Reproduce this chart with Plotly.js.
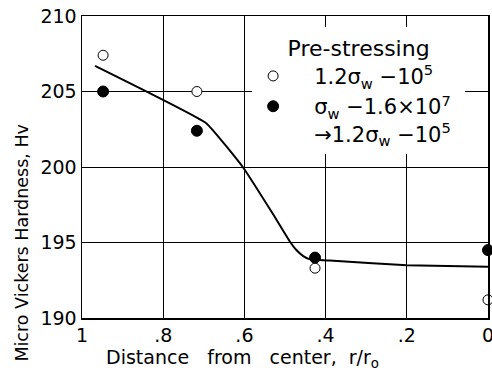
<!DOCTYPE html>
<html>
<head>
<meta charset="utf-8">
<script src="https://cdn.plot.ly/plotly-3.0.1.min.js"></script>
<style>html,body{margin:0;padding:0;background:#fff;}#chart{width:492px;height:377px;}</style>
</head>
<body>
<div id="chart"></div>
<script>
// Data
const openR = [0.948, 0.717, 0.426, 0.0];
const openHv = [207.4, 205.0, 193.3, 191.2];
const filledR = [0.948, 0.717, 0.426, 0.0];
const filledHv = [205.0, 202.4, 194.0, 194.5];
const curveR = [0.968, 0.694, 0.604, 0.530, 0.489, 0.472, 0.455, 0.440, 0.390, 0.200, 0.0];
const curveHv = [206.7, 202.9, 200.0, 196.9, 195.1, 194.5, 194.1, 193.9, 193.8, 193.5, 193.4];
const xTickVals = [1, 0.8, 0.6, 0.4, 0.2, 0];
const xTickText = ['1', '.8', '.6', '.4', '.2', '0'];
const yTickVals = [190, 195, 200, 205, 210];

const FONT = 'DejaVu Sans, Liberation Sans, sans-serif';
const SP = '&nbsp;';
const lead = SP + SP + SP;

const traces = [
  {
    x: curveR, y: curveHv, mode: 'lines', type: 'scatter',
    line: {color: '#000', width: 2, shape: 'spline', smoothing: 0.3},
    showlegend: false, hoverinfo: 'skip', cliponaxis: false
  },
  {
    x: openR, y: openHv, mode: 'markers', type: 'scatter',
    name: lead + '1.2σ<sub>w</sub> −10<sup>5</sup>' + SP.repeat(4),
    marker: {symbol: 'circle', size: 10, color: '#fff', line: {color: '#000', width: 1}},
    cliponaxis: false
  },
  {
    x: filledR, y: filledHv, mode: 'markers', type: 'scatter',
    name: lead + 'σ<sub>w</sub> −1.6×10<sup>7</sup><br>' + lead + '→1.2σ<sub>w</sub> −10<sup>5</sup>',
    marker: {symbol: 'circle', size: 11, color: '#000', line: {color: '#000', width: 1}},
    cliponaxis: false
  }
];

const layout = {
  width: 492, height: 377,
  margin: {l: 82, r: 4, t: 16, b: 59, pad: 0},
  paper_bgcolor: '#fff', plot_bgcolor: '#fff',
  font: {family: FONT, color: '#000', size: 16},
  xaxis: {
    range: [1, 0], tickvals: xTickVals, ticktext: xTickText,
    showgrid: true, gridcolor: '#000', gridwidth: 1,
    showline: true, linecolor: '#000', linewidth: 1.5, mirror: true,
    ticks: '', tickfont: {size: 19, family: FONT}, zeroline: false,
    ticklabeloverflow: 'allow'
  },
  yaxis: {
    range: [190, 210], tickvals: yTickVals,
    showgrid: true, gridcolor: '#000', gridwidth: 1,
    showline: true, linecolor: '#000', linewidth: 1.5, mirror: true,
    ticks: '', tickfont: {size: 19, family: FONT}, zeroline: false, ticklabelstandoff: 0
  },
  showlegend: true,
  legend: {
    x: 0.419, y: 0.963, xanchor: 'left', yanchor: 'top',
    bgcolor: '#fff', borderwidth: 0,
    font: {size: 21, family: FONT},
    title: {text: 'Pre-stressing', side: 'top center', font: {size: 22, family: FONT}},
    valign: 'top', tracegroupgap: 0, itemwidth: 32
  },
  annotations: [
    {
      text: 'Micro Vickers Hardness, Hv', textangle: -90,
      xref: 'paper', yref: 'paper', x: -0.15, y: 0.25,
      xanchor: 'center', yanchor: 'middle', showarrow: false,
      font: {size: 17.5, family: FONT}
    },
    {
      text: 'Distance' + SP + SP + ' from' + SP + SP + ' center,' + SP + SP + 'r/r<sub>o</sub>',
      xref: 'paper', yref: 'paper', x: 0.395, y: -0.133,
      xanchor: 'center', yanchor: 'middle', showarrow: false,
      font: {size: 19, family: FONT}
    }
  ]
};

Plotly.newPlot('chart', traces, layout, {staticPlot: true, displayModeBar: false});
</script>
</body>
</html>
